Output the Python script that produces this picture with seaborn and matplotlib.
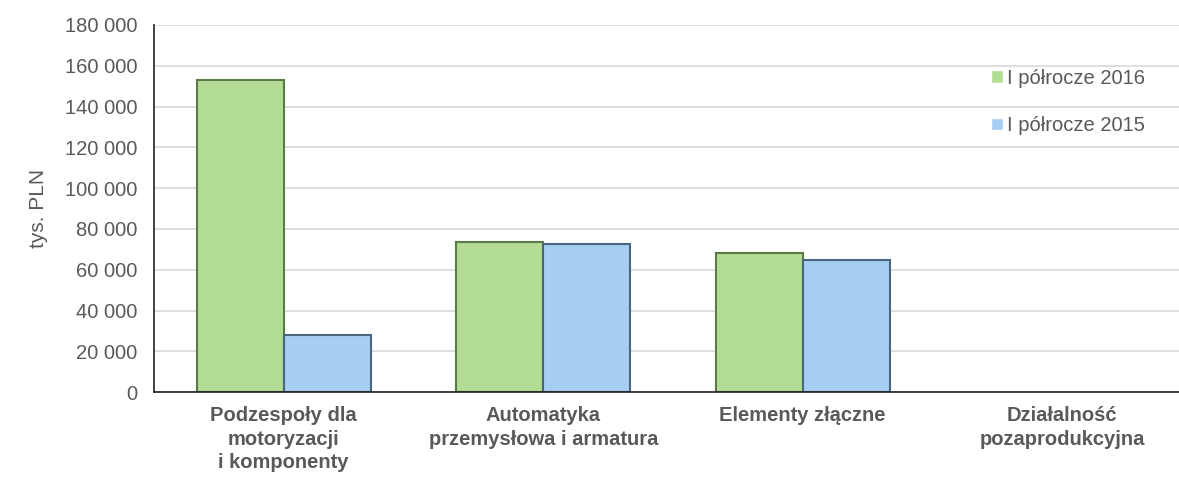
import pandas as pd
import matplotlib
matplotlib.use("Agg")
import matplotlib.pyplot as plt
import seaborn as sns
from matplotlib.ticker import FuncFormatter, MultipleLocator

sns.set_theme(style="white")
plt.rcParams['font.family'] = ['Liberation Sans', 'DejaVu Sans']

categories = ["Podzespoły dla\nmotoryzacji\ni komponenty",
              "Automatyka\nprzemysłowa i armatura",
              "Elementy złączne",
              "Działalność\npozaprodukcyjna"]
series = ["I półrocze 2016", "I półrocze 2015"]
h1_2016 = [153000, 73500, 68300, 0]
h1_2015 = [28000, 72700, 64700, 0]

df = pd.DataFrame({
    "kategoria": categories * 2,
    "okres": [series[0]] * 4 + [series[1]] * 4,
    "wartosc": h1_2016 + h1_2015,
})

colors = {"I półrocze 2016": "#b3dc95", "I półrocze 2015": "#a6cdf2"}
edges = ["#5b7a45", "#4a6580"]
txt = "#595959"

fig = plt.figure(figsize=(11.79, 4.86), dpi=100)
ax = fig.add_axes([0.1306, 0.193, 0.8694, 0.7556])

sns.barplot(data=df, x="kategoria", y="wartosc", hue="okres", palette=colors,
            width=0.67, ax=ax, legend=True, saturation=1)

# darker outline to hint at the bevelled bars; skip empty bars
for i, cont in enumerate(ax.containers):
    for bar in cont:
        if bar.get_height() > 0:
            bar.set_edgecolor(edges[i])
            bar.set_linewidth(1.5)
        else:
            bar.set_linewidth(0)

ax.set_ylim(0, 180000)
ax.set_xlim(-0.5, 3.45)
ax.yaxis.set_major_locator(MultipleLocator(20000))
ax.yaxis.set_major_formatter(FuncFormatter(lambda v, p: f"{int(v):,}".replace(",", " ")))
ax.grid(axis="y", color="#d9d9d9", linewidth=1.2)
ax.set_axisbelow(True)
for s in ["top", "right"]:
    ax.spines[s].set_visible(False)
for s in ["left", "bottom"]:
    ax.spines[s].set_color("#222222")
    ax.spines[s].set_linewidth(1.2)

ax.set_xlabel("")
ax.set_ylabel("tys. PLN", fontsize=15, color=txt, labelpad=12)
ax.tick_params(axis="y", labelsize=14.5, labelcolor=txt, length=0, pad=12)
ax.tick_params(axis="x", labelsize=14.5, labelcolor=txt, length=0, pad=10)
for lbl in ax.get_xticklabels():
    lbl.set_fontweight("bold")
    lbl.set_linespacing(1.3)

handles, labels = ax.get_legend_handles_labels()
leg = ax.legend(handles, labels, loc="upper right", bbox_to_anchor=(0.985, 0.93),
                frameon=False, fontsize=14.5, labelspacing=1.4,
                handlelength=0.6, handleheight=0.6, handletextpad=0.2, labelcolor=txt)

fig.savefig("out.png", dpi=100)
